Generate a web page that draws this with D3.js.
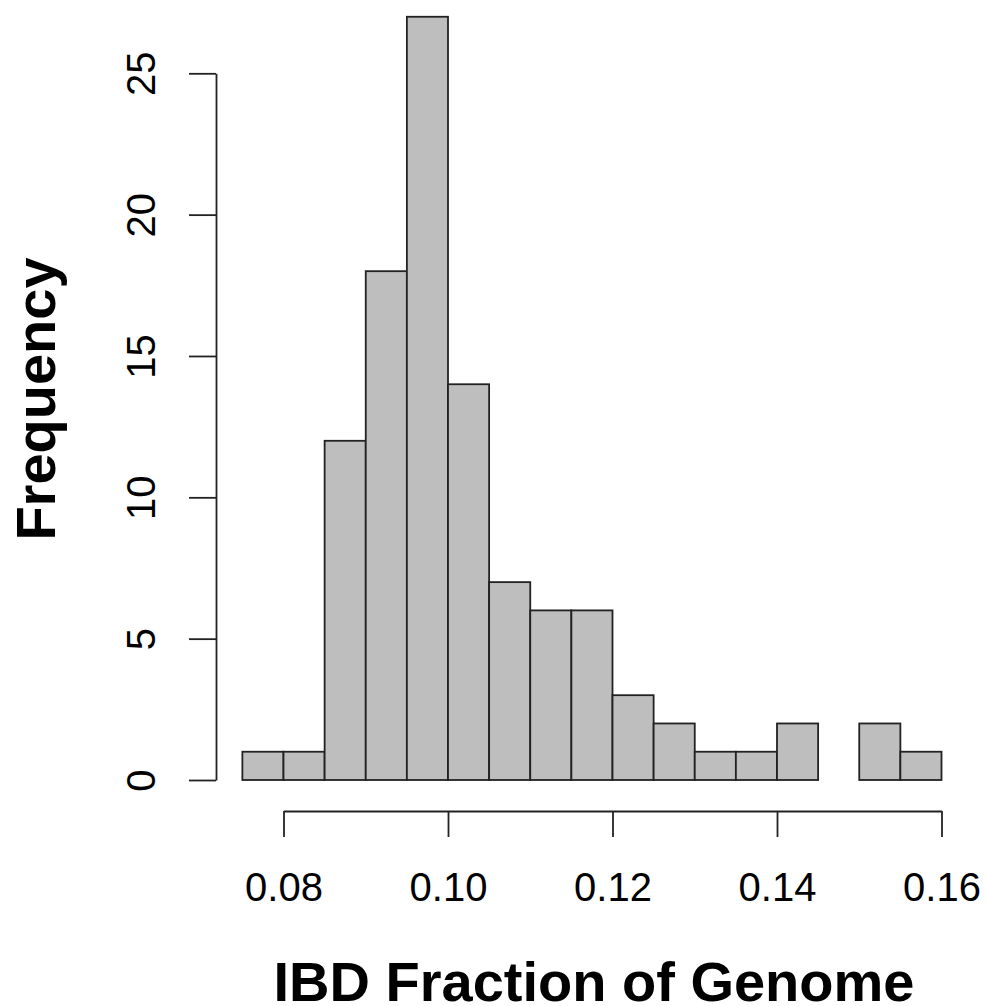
<!DOCTYPE html>
<html>
<head>
<meta charset="utf-8">
<script src="https://cdn.jsdelivr.net/npm/d3@7"></script>
<style>
  body { margin: 0; background: #fff; }
  svg { display: block; font-family: "Liberation Sans", Arial, sans-serif; }
</style>
</head>
<body>
<div id="chart"></div>
<script>
// histogram bins (IBD fraction), width 0.005
const binStarts = [0.075, 0.080, 0.085, 0.090, 0.095, 0.100, 0.105, 0.110, 0.115,
                   0.120, 0.125, 0.130, 0.135, 0.140, 0.145, 0.150, 0.155];
const binWidth = 0.005;
const counts = [1, 1, 12, 18, 27, 14, 7, 6, 6, 3, 2, 1, 1, 2, 0, 2, 1];
const xTicks = [0.08, 0.10, 0.12, 0.14, 0.16];
const yTicks = [0, 5, 10, 15, 20, 25];

const width = 987, height = 1006;

const svg = d3.select("#chart").append("svg")
  .attr("width", width)
  .attr("height", height);

const x = d3.scaleLinear().domain([0.08, 0.16]).range([283.5, 941.5]);
const y = d3.scaleLinear().domain([0, 25]).range([780, 73.3]);

// bars
svg.append("g")
  .selectAll("rect")
  .data(binStarts)
  .enter().append("rect")
  .attr("x", d => x(d))
  .attr("y", (d, i) => y(counts[i]))
  .attr("width", d => x(d + binWidth) - x(d))
  .attr("height", (d, i) => y(0) - y(counts[i]))
  .attr("fill", "#bebebe")
  .attr("stroke", "#222")
  .attr("stroke-width", 1.8);

// x axis
const xAxis = svg.append("g")
  .attr("transform", "translate(0,811)")
  .call(d3.axisBottom(x)
    .tickValues(xTicks)
    .tickFormat(d3.format(".2f"))
    .tickSize(26)
    .tickSizeOuter(0)
    .tickPadding(35.6));
xAxis.selectAll("path, line").attr("stroke", "#222").attr("stroke-width", 1.8);
xAxis.selectAll("text")
  .attr("font-size", 40)
  .attr("font-family", "Liberation Sans, Arial, sans-serif")
  .attr("fill", "#000");

// y axis
const yAxis = svg.append("g")
  .attr("transform", "translate(216,0)")
  .call(d3.axisLeft(y)
    .tickValues(yTicks)
    .tickSize(27)
    .tickSizeOuter(0));
yAxis.selectAll("path, line").attr("stroke", "#222").attr("stroke-width", 1.8);
yAxis.selectAll(".tick text")
  .attr("x", null).attr("dy", null)
  .attr("transform", "translate(-61,0) rotate(-90)")
  .attr("text-anchor", "middle")
  .attr("font-size", 40)
  .attr("font-family", "Liberation Sans, Arial, sans-serif")
  .attr("fill", "#000");

// axis titles
svg.append("text")
  .attr("x", 594)
  .attr("y", 1001)
  .attr("text-anchor", "middle")
  .attr("font-size", 56)
  .attr("font-weight", "bold")
  .text("IBD Fraction of Genome");

svg.append("text")
  .attr("transform", "translate(55,399) rotate(-90)")
  .attr("text-anchor", "middle")
  .attr("font-size", 56)
  .attr("font-weight", "bold")
  .text("Frequency");
</script>
</body>
</html>
